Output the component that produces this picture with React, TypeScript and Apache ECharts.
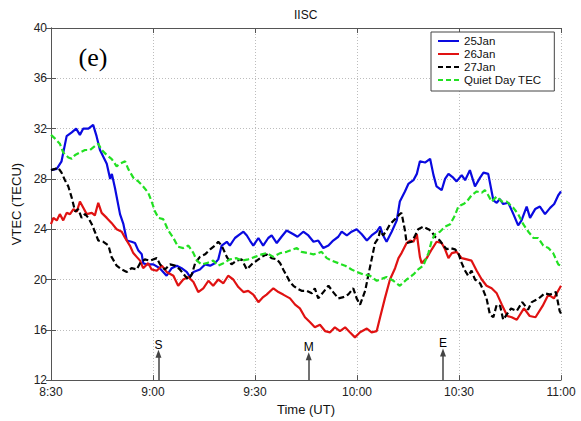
import React, { useEffect, useRef } from "react";
import * as echarts from "echarts";

// time in minutes after 08:30 UT, VTEC in TECU
const xLabels = ["8:30", "9:00", "9:30", "10:00", "10:30", "11:00"];
const seriesNames = ["25Jan", "26Jan", "27Jan", "Quiet Day TEC"];

const jan25: [number, number][] = [
  [0, 28.7], [1.7, 28.8], [3.1, 29.4], [4.6, 31.4], [6.1, 31.7], [7.4, 32.0], [8.5, 31.5], [9.5, 32.0], [11, 32.0],
  [12.4, 32.3], [13.4, 31.4], [14.4, 30.3], [16.4, 29.2], [17.4, 28.0], [17.9, 28.4], [18.8, 27.3], [20.3, 25.2],
  [21.3, 24.4], [22.3, 23.1], [23.7, 23.0], [24.7, 22.9], [25.7, 22.3], [26.7, 22.0], [27.1, 21.3], [28.1, 21.2],
  [30.1, 21.2], [32, 20.9], [34, 20.3], [35.5, 20.9], [37, 21.1], [38.4, 20.9], [39.9, 20.6], [40.9, 20.2],
  [41.9, 20.6], [43.8, 20.8], [45.3, 21.2], [46.8, 21.1], [48.2, 21.3], [49.2, 21.6], [50.2, 22.7], [51.7, 23.0],
  [52.6, 22.7], [54.1, 23.3], [55.6, 23.6], [56.6, 23.8], [57.6, 23.5], [58.5, 23.1], [59.5, 22.7], [61, 23.3],
  [62.4, 22.7], [63.9, 23.3], [64.9, 23.5], [66.4, 22.9], [67.8, 23.4], [69.3, 23.9], [71.3, 23.6], [72.5, 23.4],
  [74.2, 23.8], [75.7, 23.5], [77.2, 23.0], [78.6, 23.1], [80.1, 22.5], [81.6, 22.7], [83, 23.1], [84.5, 23.4],
  [85.5, 23.8], [87, 23.5], [88.4, 23.8], [89.9, 24.0], [91.4, 23.6], [92.9, 23.1], [94.3, 23.5], [95.8, 23.8],
  [96.8, 24.2], [97.7, 23.5], [98.7, 23.0], [100.2, 23.8], [101.7, 24.7], [102.6, 26.2], [104.1, 27.0], [105.1, 27.6],
  [106.6, 27.9], [107.6, 28.4], [108.5, 29.4], [110, 29.3], [111.5, 29.6], [112.5, 28.3], [113.4, 27.4], [114.9, 27.1],
  [115.9, 28.0], [116.9, 28.4], [118.3, 28.1], [119.3, 27.8], [120.8, 28.3], [121.8, 27.9], [123.2, 28.7], [124.7, 27.4],
  [126.2, 28.1], [127.2, 28.5], [128.6, 28.4], [130.1, 26.3], [131.1, 26.1], [132, 26.4], [133, 26.0], [134.5, 26.1],
  [136, 25.2], [137.4, 24.3], [138.4, 24.7], [139.9, 25.8], [140.9, 24.9], [142.4, 25.6], [143.8, 25.8], [145.3, 25.2],
  [146.8, 25.7], [148, 26.0], [149.2, 26.7], [150, 27.0],
];

const jan26: [number, number][] = [
  [0, 24.4], [0.7, 24.9], [1.7, 24.7], [2.6, 25.2], [3.6, 24.7], [4.6, 25.3], [5.6, 25.2], [6.6, 25.6], [7.6, 25.4],
  [8.5, 26.2], [9.5, 25.7], [10.5, 25.2], [12, 25.3], [12.9, 25.1], [13.9, 26.1], [14.9, 25.3], [16.4, 24.9],
  [17.8, 24.5], [19.3, 24.0], [20.8, 23.8], [21.8, 23.3], [23.2, 22.7], [24.2, 22.1], [25.2, 21.8], [26.2, 21.5],
  [27.1, 20.9], [28.6, 21.3], [29.6, 20.8], [31.1, 20.7], [32.6, 21.1], [34, 20.6], [36, 20.3], [37.4, 19.5],
  [38.9, 20.0], [40.4, 20.2], [41.9, 19.8], [43.3, 19.0], [44.8, 19.3], [46.3, 19.9], [47.7, 19.5], [49.2, 20.0],
  [50.7, 19.7], [52.1, 20.3], [53.6, 20.0], [55.1, 19.4], [56.6, 19.0], [58, 19.1], [59.5, 18.8], [61, 18.2],
  [62.4, 18.6], [63.4, 18.8], [65.4, 19.3], [66.9, 19.0], [68.3, 18.8], [70.3, 18.5], [71.8, 18.0], [73.2, 17.7],
  [74.7, 17.0], [76.2, 16.6], [77.6, 16.2], [79.1, 16.4], [80.6, 15.9], [82.1, 15.8], [83.5, 16.2], [85, 15.9],
  [86.5, 16.2], [87.9, 15.8], [89.4, 15.4], [90.9, 15.8], [92.9, 16.1], [94.3, 15.8], [95.8, 15.9], [96.8, 17.0],
  [98.2, 18.5], [99.7, 20.0], [101.2, 20.9], [102.2, 21.7], [103.1, 22.1], [104.6, 22.9], [105.6, 23.1], [106.6, 23.0],
  [107.6, 23.6], [108.5, 21.8], [109, 21.3], [110.5, 21.7], [112, 22.4], [113.4, 23.0], [114.9, 22.9], [115.9, 22.4],
  [116.9, 21.7], [117.9, 22.1], [119.3, 22.2], [120.8, 21.7], [122.3, 21.6], [123.7, 21.5], [125.2, 20.7], [126.7, 20.0],
  [128.1, 19.5], [129.6, 19.3], [131.1, 18.9], [132.6, 18.0], [134.2, 17.1], [135.5, 17.0], [137, 16.8], [139.1, 17.7],
  [140.8, 17.1], [142.5, 17.0], [144.6, 17.9], [146.3, 18.8], [147.9, 18.5], [150, 19.5],
];

const jan27: [number, number][] = [
  [0, 28.7], [1.2, 28.8], [2.1, 28.9], [3.1, 28.5], [4.1, 27.9], [5.1, 27.4], [6.1, 26.5], [7.1, 25.4], [8, 25.6],
  [9, 24.9], [10, 25.2], [11, 24.9], [12, 24.4], [12.9, 23.8], [13.9, 23.1], [15.4, 23.0], [16.9, 22.7], [17.8, 21.8],
  [19.3, 21.1], [20.8, 20.8], [22.3, 20.6], [23.7, 20.9], [25.2, 20.8], [26.2, 21.3], [27.6, 21.6], [29.1, 21.5],
  [31.1, 21.7], [32.1, 21.2], [33.5, 20.8], [35, 21.2], [36.5, 21.1], [37.9, 20.8], [39.4, 20.3], [40.4, 20.0],
  [41.4, 20.4], [42.4, 21.3], [43.8, 21.8], [45.3, 22.0], [46.8, 22.4], [48.2, 22.7], [49.2, 23.0], [50.2, 22.7],
  [51.7, 21.8], [53.1, 21.2], [54.6, 21.5], [56.1, 21.6], [57.6, 20.8], [59, 21.2], [60.5, 21.5], [62, 21.8],
  [63.4, 22.0], [64.9, 21.7], [66.4, 21.6], [67.4, 21.3], [68.3, 20.8], [69.3, 20.3], [70.3, 19.8], [71.3, 19.5],
  [72.3, 19.3], [73.7, 19.1], [75.2, 19.1], [76.7, 18.9], [77.6, 19.3], [78.6, 18.5], [80.1, 19.0], [81.6, 19.5],
  [83, 19.0], [84.5, 18.5], [86, 18.6], [87.4, 18.8], [88.9, 19.3], [89.9, 18.5], [90.9, 18.0], [92.4, 19.1],
  [93.3, 20.3], [94.3, 21.6], [95.3, 22.9], [96.3, 23.3], [96.8, 23.9], [97.7, 23.5], [98.7, 23.9], [99.7, 24.4],
  [101.2, 24.8], [102.6, 25.2], [103.1, 25.3], [104.1, 23.9], [104.6, 22.9], [106.1, 23.0], [107.1, 23.5], [108, 24.0],
  [109.5, 24.2], [111, 24.0], [112, 23.8], [112.9, 23.4], [114.4, 23.1], [115.4, 22.7], [116.4, 22.4], [117.4, 22.5],
  [118.8, 22.4], [119.8, 22.1], [120.8, 21.3], [121.8, 20.7], [122.7, 20.3], [123.7, 20.7], [124.7, 20.0], [126.2, 19.7],
  [127.2, 19.1], [128.1, 18.5], [129.1, 17.2], [130.1, 17.0], [131.1, 18.0], [132.1, 17.9], [133, 16.8], [135.3, 17.7],
  [137, 17.5], [138.6, 18.2], [140.3, 17.6], [141.4, 18.2], [143.5, 18.5], [145.2, 18.9], [146.8, 18.8], [148.5, 19.0],
  [149.6, 17.5], [150, 17.3],
];

const quiet: [number, number][] = [
  [0, 31.5], [1.2, 31.2], [2.6, 30.8], [3.6, 30.1], [5.1, 29.7], [6.1, 29.6], [7.1, 29.9], [8.5, 30.1], [10, 30.3],
  [11.5, 30.3], [12.9, 30.6], [13.9, 30.8], [14.9, 30.3], [16.4, 29.9], [17.8, 29.6], [19.3, 29.0], [20.3, 29.2],
  [21.8, 29.4], [22.7, 28.8], [24.2, 28.1], [25.7, 27.8], [27.1, 27.4], [28.6, 26.9], [29.6, 26.2], [30.6, 25.4],
  [31.6, 24.9], [33, 24.8], [34.5, 23.9], [36, 23.3], [37.4, 22.6], [38.9, 22.5], [40.4, 22.7], [41.9, 22.1],
  [42.9, 21.5], [44.3, 21.2], [45.8, 21.3], [47.7, 21.5], [49.2, 21.1], [50.7, 21.3], [52.6, 21.6], [54.6, 21.7],
  [56.1, 21.5], [58, 21.6], [60, 21.8], [62, 22.0], [63.4, 22.1], [65.4, 21.8], [67.4, 22.1], [69.3, 22.2],
  [71.3, 22.4], [72.3, 22.5], [73.7, 22.2], [75.7, 22.1], [77.2, 22.0], [78.6, 22.1], [79.6, 22.2], [81.1, 21.7],
  [82.6, 21.5], [84.5, 21.3], [86.5, 21.1], [88.4, 20.8], [89.9, 20.6], [91.9, 20.4], [93.8, 20.3], [95.8, 19.9],
  [98.7, 20.2], [100.7, 19.9], [102.6, 19.5], [104.6, 20.0], [106.6, 20.4], [108, 20.8], [109.5, 21.1], [111, 22.1],
  [112, 23.1], [112.9, 23.6], [114.4, 23.8], [115.9, 24.2], [117.4, 24.4], [118.8, 25.1], [119.8, 25.8], [121.3, 26.0],
  [122.3, 26.2], [123.7, 26.7], [125.2, 27.0], [126.7, 26.9], [127.6, 27.1], [128.6, 26.7], [129.6, 26.2], [131.1, 26.6],
  [132.6, 26.2], [134, 26.2], [136, 25.7], [137.4, 25.2], [138.9, 24.4], [140.4, 23.8], [141.9, 23.3], [143.3, 23.3],
  [144.8, 22.7], [146.3, 22.5], [147.7, 22.1], [149.2, 21.2], [150, 21.1],
];

// event markers: start (S), maximum (M), end (E) of eclipse
const eventLabels = ["S", "M", "E"];
const eventTimes = [31.6, 75.8, 115.3];
const eventTips = [14.1, 13.9, 14.2];

const FONT = "'Liberation Sans', Arial, Helvetica, sans-serif";
const SOLID_ICON = "path://M0,0H21V2H0Z";
const DASH_ICON = "path://M0,0H5V2H0Z M8,0H13V2H8Z M16,0H21V2H16Z";

export default function App() {
  const ref = useRef<HTMLDivElement>(null);

  useEffect(() => {
    if (!ref.current) return;
    const chart = echarts.init(ref.current, undefined, { renderer: "svg" });

    const lineSeries = (name: string, data: [number, number][], color: string, dashed: boolean) => ({
      name,
      type: "line",
      data,
      symbol: "none",
      showSymbol: false,
      smooth: false,
      lineStyle: { color, width: 2.2, type: dashed ? [6, 3] : "solid" },
      itemStyle: { color },
      z: 3,
    });

    const axisCommon = {
      axisLine: { show: true, lineStyle: { color: "#555", width: 1 } },
      axisTick: { show: true, inside: true, length: 5, lineStyle: { color: "#555" } },
    };

    chart.setOption({
      animation: false,
      backgroundColor: "#fff",
      title: {
        text: "IISC",
        left: 294,
        top: 9,
        padding: 0,
        textStyle: { fontSize: 12, fontWeight: "normal", fontFamily: FONT, color: "#111" },
      },
      grid: { left: 51, right: 20, top: 28, bottom: 30 },
      legend: {
        data: seriesNames.map((n, i) => ({ name: n, icon: i < 2 ? SOLID_ICON : DASH_ICON })),
        orient: "vertical",
        left: 431,
        top: 32,
        itemWidth: 21,
        itemHeight: 11,
        itemGap: 1,
        symbolKeepAspect: true,
        padding: [3, 13, 5, 7],
        borderColor: "#444",
        borderWidth: 1,
        backgroundColor: "#fff",
        textStyle: { fontSize: 11.5, fontFamily: FONT, color: "#111", lineHeight: 11 },
      },
      xAxis: [
        {
          type: "value",
          min: 0,
          max: 150,
          interval: 30,
          name: "Time (UT)",
          nameLocation: "middle",
          nameGap: 19,
          nameTextStyle: { fontSize: 13, fontFamily: FONT, color: "#111" },
          axisLabel: {
            margin: 6,
            fontSize: 12,
            fontFamily: FONT,
            color: "#222",
            formatter: (v: number) => xLabels[Math.round(v / 30)] ?? "",
          },
          splitLine: { show: true, lineStyle: { color: "#bdbdbd", type: [1, 2], width: 1 } },
          ...axisCommon,
        },
        {
          type: "value",
          position: "top",
          min: 0,
          max: 150,
          interval: 30,
          axisLabel: { show: false },
          splitLine: { show: false },
          ...axisCommon,
        },
      ],
      yAxis: [
        {
          type: "value",
          min: 12,
          max: 40,
          interval: 4,
          name: "VTEC (TECU)",
          nameLocation: "middle",
          nameGap: 23,
          nameTextStyle: { fontSize: 13, fontFamily: FONT, color: "#111" },
          axisLabel: { margin: 4, fontSize: 12, fontFamily: FONT, color: "#222" },
          splitLine: { show: true, lineStyle: { color: "#bdbdbd", type: [1, 2], width: 1 } },
          ...axisCommon,
        },
        {
          type: "value",
          position: "right",
          min: 12,
          max: 40,
          interval: 4,
          axisLabel: { show: false },
          splitLine: { show: false },
          ...axisCommon,
        },
      ],
      graphic: [
        {
          type: "text",
          x: 93,
          y: 57,
          style: {
            text: "(e)",
            fontSize: 26,
            fontFamily: "'Liberation Serif', 'Times New Roman', serif",
            fill: "#000",
            align: "center",
            verticalAlign: "middle",
          },
        },
      ],
      series: [
        lineSeries(seriesNames[0], jan25, "#0a0ae0", false),
        lineSeries(seriesNames[1], jan26, "#e01212", false),
        lineSeries(seriesNames[2], jan27, "#000000", true),
        lineSeries(seriesNames[3], quiet, "#22e022", true),
        {
          name: "events",
          type: "line",
          data: [],
          silent: true,
          markLine: {
            silent: true,
            symbol: ["none", "triangle"],
            symbolSize: [6, 8],
            lineStyle: { color: "#444", width: 1.5, type: "solid" },
            label: {
              show: true,
              position: "end",
              distance: 3,
              formatter: "{b}",
              fontSize: 12,
              fontFamily: FONT,
              color: "#000",
            },
            data: eventLabels.map((lab, i) => [
              { name: lab, coord: [eventTimes[i], 12] },
              { coord: [eventTimes[i], eventTips[i]] },
            ]),
          },
        },
      ],
    });

    return () => chart.dispose();
  }, []);

  return (
    <div
      ref={ref}
      style={{ position: "absolute", left: 0, top: 0, width: 581, height: 421 }}
    />
  );
}
